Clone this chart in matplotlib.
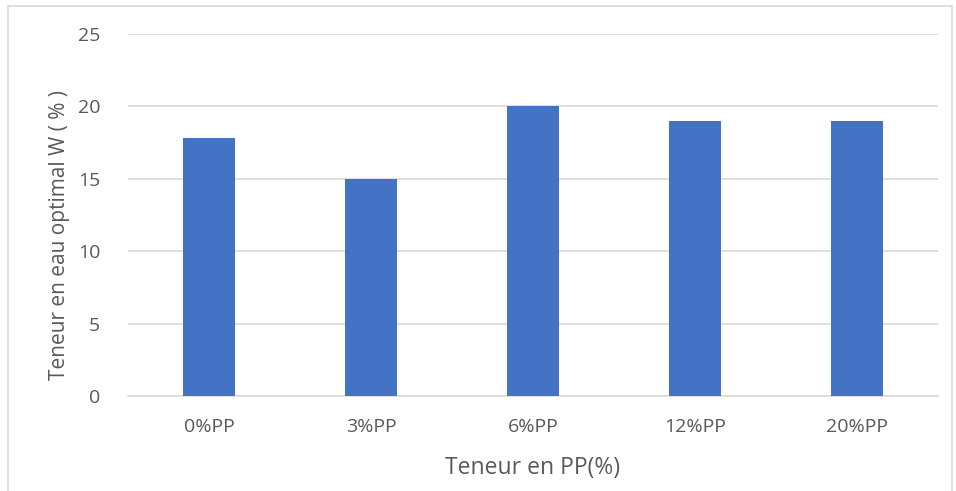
import matplotlib
matplotlib.use('Agg')
import matplotlib.pyplot as plt
from matplotlib.patches import Rectangle

categories = ['0%PP', '3%PP', '6%PP', '12%PP', '20%PP']
water_content = [17.8, 15.0, 20.0, 19.0, 19.0]
y_ticks = [0, 5, 10, 15, 20, 25]

plt.rcParams['font.family'] = ['Open Sans', 'DejaVu Sans']
text_color = '#595959'

fig = plt.figure(figsize=(9.56, 4.91), dpi=100)
ax = fig.add_axes([128 / 956, 1 - 396 / 491, 810 / 956, 362 / 491])

x = range(len(categories))
ax.bar(x, water_content, width=0.32, color='#4472C4', zorder=3)

ax.set_xlim(-0.5, len(categories) - 0.5)
ax.set_ylim(0, 25)
ax.set_yticks(y_ticks)
ax.set_xticks(list(x))
ax.set_xticklabels(categories)
ax.grid(axis='y', color='#d9d9d9', linewidth=1.2, zorder=0)
for side in ['top', 'right', 'left']:
    ax.spines[side].set_visible(False)
ax.spines['bottom'].set_color('#d9d9d9')
ax.spines['bottom'].set_linewidth(1.2)
ax.tick_params(axis='both', length=0, labelsize=14, colors=text_color)
ax.tick_params(axis='y', pad=20)
ax.tick_params(axis='x', pad=16)

ax.set_ylabel('Teneur en eau optimal W ( % )', fontsize=15, color=text_color)
ax.yaxis.set_label_coords(-0.072, 0.445)
ax.set_xlabel('Teneur en PP(%)', fontsize=16.5, color=text_color, labelpad=14)

# light chart border
fig.patches.append(Rectangle((8 / 956, -0.01), 944 / 956, 1 - 6 / 491 + 0.01,
                             transform=fig.transFigure, fill=False,
                             edgecolor='#d9d9d9', linewidth=1.2))

fig.savefig('out.png', dpi=100)
